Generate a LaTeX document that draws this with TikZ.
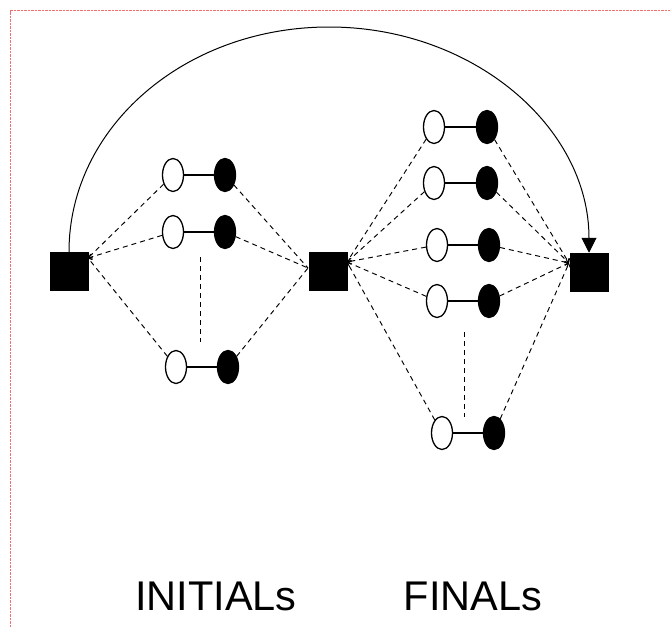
\documentclass[tikz,border=0pt]{standalone}
\usepackage{fontspec}
\setmainfont{Liberation Sans}
\usetikzlibrary{arrows.meta,shapes.geometric}
\definecolor{bordred}{HTML}{F07070}
\tikzset{
  sq/.style={draw=black, fill=black, minimum width=38pt, minimum height=38pt, inner sep=0pt, line width=0.5pt},
  opn/.style={ellipse, draw=black, fill=white, line width=1.3pt, minimum width=21pt, minimum height=33pt, inner sep=0pt},
  fil/.style={ellipse, draw=black, fill=black, line width=1.3pt, minimum width=21pt, minimum height=33pt, inner sep=0pt},
  bar/.style={line width=1.1pt},
  dl/.style={dash pattern=on 5pt off 4pt, line width=0.95pt},
  tip/.style={-{Straight Barb[length=3pt,width=6pt]}},
  lbl/.style={font=\fontsize{41.5}{50}\selectfont, inner sep=0pt},
}
\begin{document}
\begin{tikzpicture}[x=1pt,y=-1pt]
\useasboundingbox (0,0) rectangle (670,627);
\fill[white] (0,0) rectangle (670,627);
\draw[bordred, line width=1.2pt, dash pattern=on 2.5pt off 1pt] (10.5,627) -- (10.5,10.5) -- (670,10.5);

\node[sq] (L) at (69,271) {};
\node[sq] (M) at (328,271) {};
\node[sq] (R) at (589,272) {};

\coordinate (Lin) at (88,258);
\coordinate (Min) at (308,268);
\coordinate (Mout) at (347,262);
\coordinate (Rin) at (569,263);

% initials
\node[opn] (io1) at (173,175) {};
\node[fil] (if1) at (225,175) {};
\node[opn] (io2) at (173,232) {};
\node[fil] (if2) at (225,232) {};
\node[opn] (io3) at (176,367) {};
\node[fil] (if3) at (228,367) {};
\foreach \i in {1,2,3} \draw[bar] (io\i) -- (if\i);
\coordinate (iv1) at (200,257);
\coordinate (iv2) at (200,342);
\draw[dl] (iv1) -- (iv2);

% finals
\node[opn] (fo1) at (434,127) {};
\node[fil] (ff1) at (487,127) {};
\node[opn] (fo2) at (434,183) {};
\node[fil] (ff2) at (487,183) {};
\node[opn] (fo3) at (437,245) {};
\node[fil] (ff3) at (489,245) {};
\node[opn] (fo4) at (437,301) {};
\node[fil] (ff4) at (489,301) {};
\node[opn] (fo5) at (442,433) {};
\node[fil] (ff5) at (494,433) {};
\foreach \i in {1,...,5} \draw[bar] (fo\i) -- (ff\i);
\coordinate (fv1) at (464,332);
\coordinate (fv2) at (464,417);
\draw[dl] (fv1) -- (fv2);

% dashed connectors
\foreach \i in {1,2,3} {
  \draw[dl, tip] (io\i) -- (Lin);
  \draw[dl] (if\i) -- (Min);
}
\foreach \i in {1,...,5} {
  \draw[dl, tip] (fo\i) -- (Mout);
  \draw[dl, tip] (ff\i) -- (Rin);
}

% arc
\draw[line width=1pt, -{Triangle[length=15pt,width=15pt]}] (L.north) .. controls (69,127) and (185,27) .. (329,27) .. controls (473,27) and (589,127) .. (R.north);

\node[lbl] (t1) at (216,596) {INITIALs};
\node[lbl] (t2) at (473,596) {FINALs};
\end{tikzpicture}
\end{document}
